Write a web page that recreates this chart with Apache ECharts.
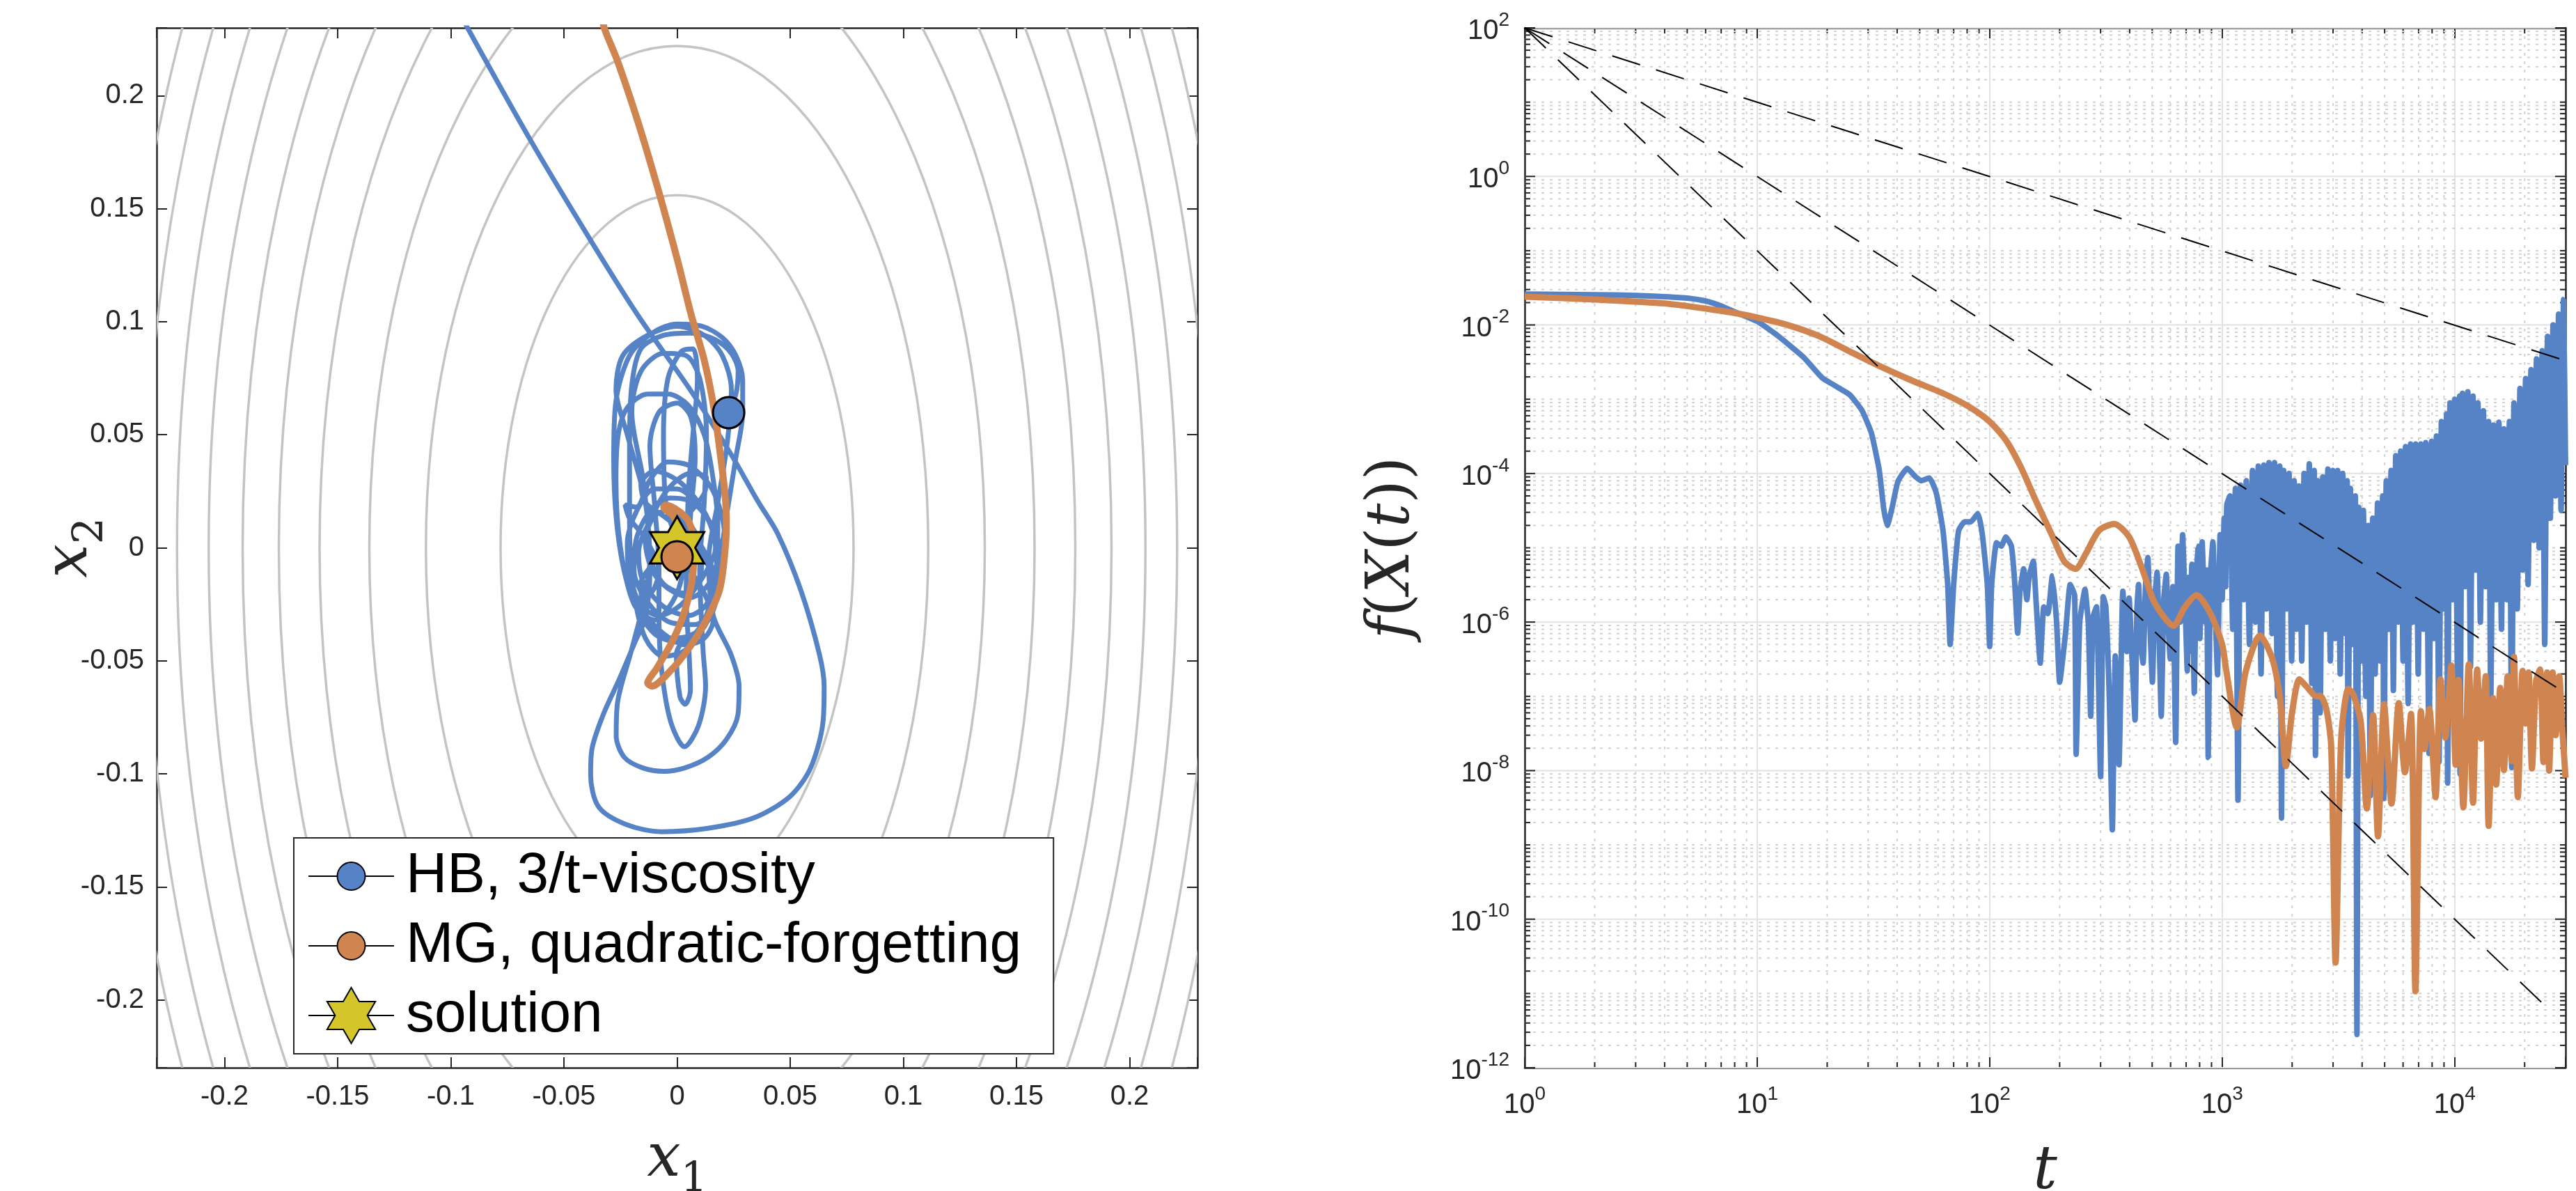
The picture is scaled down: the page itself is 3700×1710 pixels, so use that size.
<!DOCTYPE html>
<html>
<head>
<meta charset="utf-8">
<title>HB vs MG trajectories</title>
<script src="https://cdn.jsdelivr.net/npm/echarts@6/dist/echarts.min.js"></script>
<style>
  html, body { margin: 0; padding: 0; background: #fff; }
  #chart { width: 3700px; height: 1710px; }
</style>
</head>
<body>
<div id="chart"></div>
<script>
// ---- left panel: level sets (semi-axes) ----
var contourA = [0.078, 0.111, 0.136, 0.158, 0.176, 0.192, 0.207, 0.221, 0.235, 0.247];
var contourB = [0.156, 0.222, 0.272, 0.316, 0.352, 0.384, 0.414, 0.442, 0.470, 0.494];

// HB, 3/t-viscosity trajectory (x1, x2)
var hbPath = [
  [-0.0955, 0.236], [-0.0926, 0.23], [-0.0646, 0.18], [-0.038, 0.1357], [-0.0174, 0.103],
  [0.0062, 0.0693], [0.0239, 0.0413], [0.0357, 0.0206], [0.0444, 0.0064], [0.0547, -0.0188],
  [0.0629, -0.0471], [0.065, -0.0613], [0.0645, -0.077], [0.059, -0.0974], [0.0499, -0.110],
  [0.0341, -0.1194], [0.0136, -0.1241], [-0.0069, -0.1256], [-0.0223, -0.1225], [-0.0346, -0.1147],
  [-0.0382, -0.1005], [-0.0377, -0.0895], [-0.0326, -0.0737], [-0.0254, -0.0578], [-0.0182, -0.0408],
  [-0.0141, -0.0313], [-0.012, -0.01], [-0.014, 0.02], [-0.022, 0.05], [-0.027, 0.07],
  [-0.024, 0.085], [-0.013, 0.094], [0.0, 0.098], [0.012, 0.094], [0.02, 0.085],
  [0.024, 0.07], [0.022, 0.045], [0.018, 0.02], [0.014, -0.005], [0.016, -0.03],
  [0.0238, -0.0471], [0.0274, -0.0612], [0.0269, -0.0738], [0.0218, -0.0848], [0.0136, -0.0927],
  [0.0033, -0.0974], [-0.0059, -0.0989], [-0.0151, -0.0974], [-0.0233, -0.0927], [-0.0269, -0.0832],
  [-0.0264, -0.0691], [-0.0202, -0.0455], [-0.015, -0.025], [-0.012, -0.005], [-0.015, 0.03],
  [-0.02, 0.06], [-0.016, 0.078], [-0.006, 0.086], [0.004, 0.085], [0.01, 0.075],
  [0.013, 0.05], [0.012, 0.02], [0.01, -0.01], [0.0115, -0.0455], [0.0126, -0.0612],
  [0.0095, -0.0786], [0.0033, -0.088], [-0.0028, -0.077], [-0.0069, -0.0534], [-0.008, -0.03],
  [-0.008, -0.01], [-0.01, 0.02], [-0.012, 0.045], [-0.008, 0.06], [0.0, 0.064],
  [0.006, 0.058], [0.008, 0.04], [0.006, 0.015], [0.004, -0.02], [0.0054, -0.0487],
  [0.0059, -0.0629], [0.0036, -0.0692], [0.0013, -0.066], [-0.0003, -0.0471], [0.004, -0.04],
  [0.012, -0.035], [0.019, -0.015], [0.021, 0.005], [0.016, 0.025], [0.006, 0.036],
  [-0.004, 0.038], [-0.012, 0.03], [-0.018, 0.018], [-0.023, 0.019], [-0.021, 0.013],
  [-0.014, 0.004], [-0.008, -0.01], [-0.012, -0.02], [-0.02, -0.013], [-0.023, -0.011],
  [-0.018, -0.022], [-0.012, -0.033], [-0.002, -0.04], [0.008, -0.038], [0.015, -0.03],
  [0.018, -0.018], [0.012, -0.005], [0.004, 0.006], [-0.006, 0.014], [-0.014, 0.02],
  [-0.016, 0.028], [-0.01, 0.034], [0.0, 0.03], [0.008, 0.022], [0.014, 0.012],
  [0.017, 0.0], [0.012, -0.012], [0.002, -0.025], [-0.008, -0.03], [-0.015, -0.026],
  [-0.016, -0.016], [-0.01, -0.006], [-0.003, 0.006], [0.006, 0.016], [0.012, 0.024],
  [0.013, 0.031], [0.006, 0.033], [-0.004, 0.026], [-0.012, 0.012], [-0.017, -0.002],
  [-0.015, -0.015], [-0.006, -0.026], [0.005, -0.03], [0.013, -0.025], [0.016, -0.012],
  [0.01, 0.002], [0.002, 0.012], [-0.008, 0.02], [-0.013, 0.01], [-0.012, -0.004],
  [-0.006, -0.016], [0.003, -0.02], [0.01, -0.014], [0.011, -0.002], [0.006, 0.01],
  [-0.002, 0.017], [-0.01, 0.014], [-0.014, 0.003], [-0.011, -0.01], [-0.004, -0.018],
  [0.006, -0.022], [0.014, -0.016], [0.018, -0.004], [0.015, 0.01], [0.007, 0.02],
  [-0.003, 0.022], [-0.012, 0.016], [-0.018, 0.004], [-0.019, -0.01], [-0.013, -0.024],
  [-0.003, -0.033], [0.008, -0.034], [0.016, -0.026], [0.02, -0.012], [0.018, 0.004],
  [0.01, 0.018], [0.0, 0.026], [-0.01, 0.026], [-0.018, 0.016], [-0.022, 0.002],
  [-0.021, -0.012], [-0.015, -0.028], [-0.006, -0.038], [0.004, -0.043], [0.012, -0.04],
  [0.016, -0.032], [0.012, -0.02], [0.005, -0.008], [-0.005, 0.02], [-0.006, 0.05],
  [-0.004, 0.075], [0.002, 0.087], [0.007, 0.088], [0.009, 0.075], [0.007, 0.05],
  [0.005, 0.025], [0.004, 0.0], [0.0, -0.02], [-0.01, -0.032], [-0.019, -0.025],
  [-0.025, 0.0], [-0.027, 0.03], [-0.026, 0.05], [-0.022, 0.062], [-0.013, 0.068],
  [-0.004, 0.068], [0.005, 0.063], [0.012, 0.05], [0.016, 0.03], [0.018, 0.01],
  [0.017, -0.012], [0.012, -0.032], [0.002, -0.042], [-0.01, -0.038], [-0.02, -0.022],
  [-0.026, 0.005], [-0.028, 0.04], [-0.027, 0.065], [-0.021, 0.085], [-0.011, 0.095],
  [0.0, 0.099], [0.011, 0.098], [0.02, 0.093], [0.026, 0.085], [0.029, 0.074],
  [0.029, 0.06], [0.026, 0.04], [0.022, 0.015], [0.018, -0.01], [0.013, -0.03],
  [0.004, -0.045], [-0.006, -0.048], [-0.014, -0.04], [-0.019, -0.02], [-0.021, 0.01],
  [-0.021, 0.045], [-0.02, 0.072], [-0.016, 0.088], [-0.006, 0.094], [0.006, 0.095],
  [0.017, 0.092], [0.024, 0.086], [0.027, 0.078], [0.026, 0.068], [0.0235, 0.062],
  [0.0228, 0.0598]
];

// MG, quadratic-forgetting trajectory (x1, x2)
var mgPath = [
  [-0.033, 0.235], [-0.0322, 0.23], [-0.0263, 0.2153], [-0.0174, 0.1888], [-0.0086, 0.1593],
  [0.0003, 0.1268], [0.0062, 0.1032], [0.0121, 0.0826], [0.0165, 0.0605], [0.0195, 0.0383],
  [0.0212, 0.0236], [0.0218, 0.012], [0.0213, 0.0], [0.0187, -0.0188], [0.0115, -0.0345],
  [0.0033, -0.0471], [-0.0049, -0.0565], [-0.011, -0.0612], [-0.013, -0.0598], [-0.009, -0.0534],
  [-0.0018, -0.0408], [0.0033, -0.0282], [0.0069, -0.0124], [0.0074, 0.0017], [0.0054, 0.0111],
  [0.0013, 0.0158], [-0.0049, 0.0189], [-0.0059, 0.018], [-0.0018, 0.0142], [0.0015, 0.0063],
  [0.002, 0.0], [0.0, -0.004]
];

var hbEnd = [0.0228, 0.0598];
var mgEnd = [0.0, -0.004];
var solutionPoint = [0.0, 0.0];

// ---- right panel: f(X(t)) ----
var hbEarly = [
  [1, 2.6e-2], [2, 2.55e-2], [3, 2.5e-2], [4, 2.4e-2], [5, 2.3e-2], [6, 2.1e-2], [7, 1.8e-2], [8, 1.5e-2],
  [10, 1.12e-2], [12.3, 7.1e-3], [15.8, 3.7e-3], [19, 1.95e-3], [21.4, 1.55e-3], [25, 1.15e-3],
  [28.2, 7.1e-4], [31, 3.5e-4], [33.5, 1.1e-4], [35, 3.4e-5], [36.3, 2.0e-5], [38, 3.4e-5],
  [40.3, 7.8e-5], [44.2, 1.17e-4], [47.9, 9.1e-5], [50.7, 8.0e-5], [55, 8.7e-5], [58.9, 5.5e-5],
  [63, 1.7e-5], [66, 3.2e-6], [67.6, 5.0e-7], [70, 3.2e-6], [73.5, 1.7e-5], [78, 2.24e-5],
  [83, 2.24e-5], [89, 2.9e-5], [93, 1.5e-5], [97.7, 3.2e-6], [100, 4.7e-7], [102, 3.2e-6],
  [107, 1.17e-5], [112, 1.05e-5], [117.5, 1.4e-5], [124, 1.05e-5], [128, 3.6e-6], [132, 7.1e-7],
  [135, 2.6e-6], [140, 5.2e-6], [144.5, 2.0e-6], [148, 4.2e-6], [154, 6.6e-6], [158.5, 1.8e-6],
  [165, 2.8e-7], [171, 1.6e-6], [178, 1.3e-6], [186, 4.2e-6], [194, 1.0e-6], [200, 1.55e-7],
  [212, 7.1e-7], [222, 3.2e-6], [232, 2.3e-6], [235.5, 1.66e-8], [244, 1.0e-6], [257, 2.75e-6],
  [266, 8.9e-7], [272, 5.4e-8], [278, 1.15e-6], [288, 1.6e-6], [300, 8.3e-9], [308, 2.2e-6],
  [316, 1.6e-6], [327, 9.8e-8], [337, 1.6e-9], [347, 3.5e-7], [360, 1.2e-8], [374, 2.6e-6],
  [389, 4.0e-7], [398, 2.1e-6], [410, 3e-7], [422, 4.8e-8], [430, 1.5e-6], [437, 3.2e-6],
  [447, 5e-7], [457, 2.8e-7], [468, 3e-6], [479, 7.4e-6], [490, 8e-7], [501, 1.55e-7],
  [513, 2e-6], [525, 4.7e-6], [536, 6e-7], [547, 5.4e-8], [561, 2e-6], [575, 4.4e-6],
  [586, 9e-7], [598, 3.2e-7], [614, 3e-6], [631, 2.4e-8], [646, 1.05e-5], [661, 1e-6],
  [676, 1.5e-5], [692, 2e-6], [708, 2.2e-7], [716, 4e-6], [724, 4.0e-7], [741, 6e-6],
  [759, 1.1e-7], [772, 3e-6], [785, 1.05e-5], [802, 6e-7], [820, 1.2e-5], [845, 1e-6],
  [858, 5e-6], [871, 1.5e-8], [890, 4e-6], [912, 1.2e-5], [933, 1.5e-6], [955, 1.95e-7],
  [980, 1.5e-5], [1000, 2e-6], [1020, 2.5e-5], [1035, 3e-6], [1047, 3.8e-5]
];
var hbLate = [
  [1080, 5e-5], [1110, 8e-7], [1140, 6.3e-5], [1170, 4e-9], [1200, 7e-5], [1240, 2e-6], [1270, 8e-5],
  [1310, 5e-7], [1350, 1.1e-4], [1390, 1e-6], [1430, 1.26e-4], [1470, 2e-7], [1510, 1.3e-4],
  [1550, 1.5e-6], [1590, 1.4e-4], [1640, 7e-7], [1680, 1.4e-4], [1730, 1e-7], [1770, 1.26e-4],
  [1800, 2.3e-9], [1840, 1.1e-4], [1890, 1.5e-6], [1940, 1e-4], [1990, 3e-7], [2040, 8e-5],
  [2090, 8e-7], [2140, 6.8e-5], [2200, 3e-7], [2250, 1e-4], [2310, 1e-6], [2370, 1.35e-4],
  [2430, 1.5e-7], [2490, 1.1e-4], [2520, 1.6e-8], [2580, 8e-5], [2640, 6e-8], [2710, 9e-5],
  [2780, 8e-7], [2850, 1.15e-4], [2920, 3e-7], [2990, 1.1e-4], [3060, 6e-7], [3140, 1.1e-4],
  [3220, 2e-7], [3300, 1e-4], [3380, 7e-7], [3450, 8e-5], [3480, 8.5e-9], [3560, 6.3e-5],
  [3650, 5e-7], [3740, 5e-5], [3800, 2.8e-12], [3870, 3.5e-5], [3960, 3e-7], [4050, 3.2e-5],
  [4150, 1e-7], [4250, 2e-5], [4340, 4.6e-9], [4440, 2.5e-5], [4550, 2e-7], [4660, 4e-5],
  [4780, 3e-7], [4900, 5e-5], [4960, 4.2e-9], [5080, 8e-5], [5200, 8e-7], [5330, 1.1e-4],
  [5450, 1.2e-7], [5580, 1.74e-4], [5720, 1e-6], [5860, 2e-4], [6000, 3e-7], [6150, 2.3e-4],
  [6310, 8e-8], [6460, 2.5e-4], [6610, 1e-6], [6800, 2.5e-4], [6970, 2e-7], [7150, 2.5e-4],
  [7330, 8e-7], [7510, 2.6e-4], [7760, 1.7e-8], [7950, 2.7e-4], [8150, 6e-7], [8350, 3.2e-4],
  [8570, 1.3e-8], [8770, 5e-4], [9000, 1.5e-6], [9230, 6.3e-4], [9330, 6.8e-9], [9550, 8.9e-4],
  [9790, 2e-6], [10000, 1e-3], [10300, 1.5e-7], [10500, 1.1e-3], [10550, 9e-9], [10800, 1.2e-3],
  [11100, 3e-6], [11400, 1.26e-3], [11700, 2.5e-7], [12000, 1.1e-3], [12300, 5e-6], [12600, 8.9e-4],
  [12900, 1e-6], [13300, 7e-4], [13600, 3e-6], [14000, 5e-4], [14300, 8e-8], [14700, 4.5e-4],
  [15100, 2e-6], [15500, 4.9e-4], [15900, 8e-7], [16300, 4e-4], [16800, 2e-6], [17200, 5e-4],
  [17600, 1.1e-8], [18000, 8.9e-4], [18600, 1.5e-6], [19100, 1.4e-3], [19600, 5e-6], [20200, 1.9e-3],
  [20700, 3.2e-6], [21300, 2.5e-3], [21900, 1.26e-5], [22500, 3.5e-3], [23100, 1e-5], [23800, 4.5e-3],
  [24400, 5e-7], [25100, 7e-3], [25800, 2.5e-5], [26500, 1e-2], [27200, 5e-5], [28000, 1.4e-2],
  [28700, 3.2e-5], [29400, 2.2e-2], [30000, 1.3e-4]
];
var mgCurve = [
  [1, 2.4e-2], [2, 2.2e-2], [4, 1.95e-2], [7, 1.55e-2], [8.5, 1.4e-2], [10, 1.26e-2], [13.5, 1.0e-2],
  [18.4, 7.1e-3], [25, 4.4e-3], [34, 2.75e-3], [46, 1.8e-3], [63, 1.2e-3], [80.5, 8.1e-4], [100, 5.0e-4],
  [117.5, 2.8e-4], [136, 1.23e-4], [158, 4.3e-5], [185, 1.5e-5], [209, 6.6e-6], [234, 5.2e-6],
  [259, 8.3e-6], [295, 1.7e-5], [343, 2.1e-5], [398, 1.4e-5], [453, 5.2e-6], [513, 1.8e-6],
  [617, 8.9e-7], [692, 1.6e-6], [776, 2.3e-6], [891, 1.3e-6], [1000, 5e-7], [1040, 2.3e-7],
  [1156, 3.8e-8], [1260, 2.1e-7], [1455, 6.6e-7], [1644, 3.2e-7], [1770, 1e-7], [1880, 1.15e-8],
  [1995, 5.8e-8], [2150, 1.7e-7], [2310, 1.35e-7], [2550, 1e-7], [2640, 1.02e-7], [2805, 6.8e-8],
  [2945, 2.1e-8], [3075, 2.6e-11], [3250, 2.7e-8], [3490, 1.26e-7], [3660, 1.07e-7], [3945, 4.6e-8],
  [4190, 3.1e-9], [4460, 5.6e-8], [4680, 1.3e-9], [4970, 7.9e-8], [5350, 3.6e-9], [5750, 8.1e-8],
  [6110, 9.5e-9], [6490, 5.8e-8], [6780, 1.07e-11], [7160, 6.3e-8], [7410, 1.95e-8], [7780, 6.8e-8],
  [8280, 4.4e-9], [8690, 1.7e-7], [9120, 2.8e-8], [9680, 2.6e-7], [10100, 1.2e-8], [10400, 1.66e-7],
  [10900, 3.2e-9], [11500, 2.7e-7], [12000, 3.7e-9], [12500, 2.3e-7], [13000, 2.7e-8], [13600, 1.86e-7],
  [14000, 1.8e-9], [14600, 9.5e-8], [15100, 6.5e-9], [15700, 1.3e-7], [16300, 1.02e-8], [16900, 1.86e-7],
  [17600, 1.35e-8], [18000, 3.4e-7], [18700, 4.4e-9], [19600, 2.2e-7], [20200, 4.3e-8], [20800, 2.1e-7],
  [21500, 1.07e-8], [22400, 1.6e-7], [23300, 2.3e-7], [24100, 1.3e-8], [25000, 2.1e-7], [25500, 1e-8],
  [26400, 2.1e-7], [27200, 3e-8], [28200, 1.86e-7], [29000, 4e-8], [30000, 8e-9]
];

// reference rates (dashed): end points of 1/t, 1/t^2, 1/t^3 guides
var rateT1 = [[1, 100], [30000, 3.3e-3]];
var rateT2 = [[1, 100], [30000, 1.1e-7]];
var rateT3 = [[1, 100], [26000, 5.7e-12]];

// tick values
var yMajorTicks = [1e-12, 1e-10, 1e-8, 1e-6, 1e-4, 1e-2, 1e0, 1e2];
var minorMantissas = [2, 3, 4, 5, 6, 7, 8, 9];
var xDecades = [1, 10, 100, 1000, 10000];
var yDecadeExps = [-12, -11, -10, -9, -8, -7, -6, -5, -4, -3, -2, -1, 0, 1];

var INK = '#262626';
var BLUE = '#5683c6';
var ORANGE = '#d08450';
var GOLD = '#d4c62a';
var SANS = 'Liberation Sans';
var SERIF = 'DejaVu Serif';

var xMinorTicks = [];
xDecades.forEach(function (d) {
  minorMantissas.forEach(function (m) { if (m * d < 30000) xMinorTicks.push(m * d); });
});
var yMinorTicks = [];
yDecadeExps.forEach(function (e) {
  minorMantissas.forEach(function (m) { yMinorTicks.push(m * Math.pow(10, e)); });
  if (e % 2 !== 0) yMinorTicks.push(Math.pow(10, e));
});

// symbols: circle drawn at half of its box so legend and plot match the star size
var circleSym = 'path://M0,0 M100,100 M75,50 A25,25 0 1 1 25,50 A25,25 0 1 1 75,50 Z';
var starSym = 'path://M0,0 M100,100 M50,0 L64.43,25 L93.3,25 L78.87,50 L93.3,75 L64.43,75 L50,100 L35.57,75 L6.7,75 L21.13,50 L6.7,25 L35.57,25 Z';

var fmtLin = function (v) {
  var k = Math.round(v / 0.05);
  if (Math.abs(k * 0.05 - v) > 1e-6) return '';
  return String(+(k * 0.05).toFixed(2));
};
var fmtPow = function (v) {
  var e = Math.log10(v);
  var r = Math.round(e);
  if (Math.abs(e - r) > 1e-6) return '';
  return '{b|10}{s|' + r + '}';
};
var powRich = {
  b: { fontFamily: SANS, fontSize: 40, color: INK, verticalAlign: 'bottom' },
  s: { fontFamily: SANS, fontSize: 28, color: INK, verticalAlign: 'bottom', padding: [0, 0, 22, 0] }
};
var mathRich = {
  i: { fontFamily: SERIF, fontStyle: 'italic', fontSize: 86, color: INK, verticalAlign: 'bottom', padding: [0, 0, 16, 0] },
  n: { fontFamily: SERIF, fontSize: 86, color: INK, verticalAlign: 'bottom', padding: [0, 0, 16, 0] },
  s: { fontFamily: SERIF, fontSize: 60, color: INK, verticalAlign: 'bottom' }
};

var axisLine = { onZero: false, lineStyle: { color: INK, width: 2.5 } };
var tickIn = { inside: true, length: 15, lineStyle: { color: INK, width: 2 } };

function linAxis(extra) {
  var a = {
    gridIndex: 0, type: 'value', min: -0.23, max: 0.23, splitNumber: 9,
    axisLine: axisLine, axisTick: tickIn, splitLine: { show: false },
    axisLabel: { show: false }, nameMoveOverlap: false
  };
  for (var k in extra) a[k] = extra[k];
  return a;
}
function logAxis(extra) {
  var a = {
    gridIndex: 1, type: 'log', logBase: 10,
    axisLine: axisLine, splitLine: { show: false }, axisLabel: { show: false },
    nameMoveOverlap: false
  };
  for (var k in extra) a[k] = extra[k];
  return a;
}

var chart = echarts.init(document.getElementById('chart'));

chart.setOption({
  animation: false,
  backgroundColor: '#ffffff',
  textStyle: { fontFamily: SANS },
  grid: [
    { left: 225, top: 40, width: 1495, height: 1493, containLabel: false, outerBoundsMode: 'none' },
    { left: 2190, top: 40, width: 1495, height: 1493, containLabel: false, outerBoundsMode: 'none' }
  ],
  legend: {
    data: ['HB, 3/t-viscosity', 'MG, quadratic-forgetting', 'solution'],
    orient: 'vertical', align: 'left', left: 422, top: 1203,
    itemWidth: 123, itemHeight: 100, itemGap: 18,
    padding: [14, 46, 14, 20],
    backgroundColor: '#ffffff', borderColor: INK, borderWidth: 2,
    selectedMode: false,
    lineStyle: { color: '#000000', width: 2, type: 'solid' },
    textStyle: { fontFamily: SANS, fontSize: 82, color: '#000000', padding: [0, 0, 0, 12] }
  },
  xAxis: [
    linAxis({
      position: 'bottom',
      name: '{i|x}{s|1}', nameLocation: 'middle', nameGap: 90,
      nameTextStyle: { rich: mathRich },
      axisLabel: { show: true, margin: 22, fontSize: 40, color: INK, formatter: fmtLin }
    }),
    linAxis({ position: 'top' }),
    logAxis({
      min: 1, max: 30000, position: 'bottom',
      name: '{i|t}', nameLocation: 'middle', nameGap: 108,
      nameTextStyle: { rich: mathRich },
      axisTick: tickIn,
      axisLabel: { show: true, margin: 24, formatter: fmtPow, rich: powRich },
      splitLine: { show: true, lineStyle: { color: '#e2e2e2', width: 2 } }
    }),
    logAxis({ min: 1, max: 30000, position: 'top', axisTick: tickIn })
  ],
  yAxis: [
    linAxis({
      position: 'left',
      name: '{i|x}{s|2}', nameLocation: 'middle', nameGap: 64,
      nameTextStyle: { rich: mathRich },
      axisLabel: { show: true, margin: 18, fontSize: 40, color: INK, formatter: fmtLin }
    }),
    linAxis({ position: 'right' }),
    logAxis({
      min: 1e-12, max: 1e2, position: 'left',
      name: '{i|f}{n|(}{i|X}{n|(}{i|t}{n|))}', nameLocation: 'middle', nameGap: 130,
      nameTextStyle: { rich: mathRich },
      axisTick: { show: false }
    }),
    logAxis({ min: 1e-12, max: 1e2, position: 'right', axisTick: { show: false } })
  ],
  series: [
    {
      name: 'levels', type: 'custom', xAxisIndex: 0, yAxisIndex: 0, z: 1, silent: true,
      data: contourA.map(function (a, i) { return [a, contourB[i]]; }),
      encode: { x: 0, y: 1 },
      renderItem: function (params, api) {
        var c = api.coord([0, 0]);
        var rx = api.coord([api.value(0), 0])[0] - c[0];
        var ry = c[1] - api.coord([0, api.value(1)])[1];
        var cs = params.coordSys;
        return {
          type: 'group',
          clipPath: { type: 'rect', shape: { x: cs.x, y: cs.y, width: cs.width, height: cs.height } },
          children: [{
            type: 'ellipse',
            shape: { cx: c[0], cy: c[1], rx: rx, ry: ry },
            style: { fill: 'none', stroke: '#c4c4c4', lineWidth: 3.5 }
          }]
        };
      }
    },
    {
      name: 'hb-path', type: 'line', xAxisIndex: 0, yAxisIndex: 0, z: 3,
      data: hbPath, showSymbol: false, smooth: 0.3, silent: true,
      lineStyle: { color: BLUE, width: 7 }
    },
    {
      name: 'mg-path', type: 'line', xAxisIndex: 0, yAxisIndex: 0, z: 4,
      data: mgPath, showSymbol: false, smooth: 0.3, silent: true,
      lineStyle: { color: ORANGE, width: 10 }
    },
    {
      name: 'solution', type: 'line', xAxisIndex: 0, yAxisIndex: 0, z: 5,
      data: [solutionPoint], symbol: starSym, symbolSize: 90, silent: true,
      itemStyle: { color: GOLD, borderColor: '#000000', borderWidth: 3 },
      lineStyle: { color: GOLD }
    },
    {
      name: 'HB, 3/t-viscosity', type: 'line', xAxisIndex: 0, yAxisIndex: 0, z: 6,
      data: [hbEnd], symbol: circleSym, symbolSize: 90, silent: true,
      itemStyle: { color: BLUE, borderColor: '#000000', borderWidth: 3 },
      lineStyle: { color: BLUE }
    },
    {
      name: 'MG, quadratic-forgetting', type: 'line', xAxisIndex: 0, yAxisIndex: 0, z: 7,
      data: [mgEnd], symbol: circleSym, symbolSize: 90, silent: true,
      itemStyle: { color: ORANGE, borderColor: '#000000', borderWidth: 3 },
      lineStyle: { color: ORANGE }
    },
    {
      name: 'x-minor', type: 'custom', xAxisIndex: 2, yAxisIndex: 2, z: 1, silent: true,
      data: xMinorTicks.map(function (v) { return [v, 1]; }),
      encode: { x: 0, y: 1 },
      renderItem: function (params, api) {
        var cs = params.coordSys;
        var x = api.coord([api.value(0), 1])[0];
        var b = cs.y + cs.height;
        return {
          type: 'group', children: [
            { type: 'line', shape: { x1: x, y1: cs.y, x2: x, y2: b }, style: { stroke: '#d2d2d2', lineWidth: 2, lineDash: [4, 8] } },
            { type: 'line', shape: { x1: x, y1: b, x2: x, y2: b - 8 }, style: { stroke: INK, lineWidth: 2 } },
            { type: 'line', shape: { x1: x, y1: cs.y, x2: x, y2: cs.y + 8 }, style: { stroke: INK, lineWidth: 2 } }
          ]
        };
      }
    },
    {
      name: 'y-minor', type: 'custom', xAxisIndex: 2, yAxisIndex: 2, z: 1, silent: true,
      data: yMinorTicks.map(function (v) { return [1, v]; }),
      encode: { x: 0, y: 1 },
      renderItem: function (params, api) {
        var cs = params.coordSys;
        var y = api.coord([1, api.value(1)])[1];
        var r = cs.x + cs.width;
        return {
          type: 'group', children: [
            { type: 'line', shape: { x1: cs.x, y1: y, x2: r, y2: y }, style: { stroke: '#d2d2d2', lineWidth: 2, lineDash: [4, 8] } },
            { type: 'line', shape: { x1: cs.x, y1: y, x2: cs.x + 8, y2: y }, style: { stroke: INK, lineWidth: 2 } },
            { type: 'line', shape: { x1: r, y1: y, x2: r - 8, y2: y }, style: { stroke: INK, lineWidth: 2 } }
          ]
        };
      }
    },
    {
      name: 'y-major', type: 'custom', xAxisIndex: 2, yAxisIndex: 2, z: 2, silent: true,
      data: yMajorTicks.map(function (v) { return [1, v]; }),
      encode: { x: 0, y: 1 },
      renderItem: function (params, api) {
        var cs = params.coordSys;
        var v = api.value(1);
        var y = api.coord([1, v])[1];
        var r = cs.x + cs.width;
        return {
          type: 'group', children: [
            { type: 'line', shape: { x1: cs.x, y1: y, x2: r, y2: y }, style: { stroke: '#e2e2e2', lineWidth: 2 } },
            { type: 'line', shape: { x1: cs.x, y1: y, x2: cs.x + 15, y2: y }, style: { stroke: INK, lineWidth: 2 } },
            { type: 'line', shape: { x1: r, y1: y, x2: r - 15, y2: y }, style: { stroke: INK, lineWidth: 2 } },
            {
              type: 'text', x: cs.x - 22, y: y,
              style: { text: fmtPow(v), rich: powRich, align: 'right', verticalAlign: 'middle', fill: INK }
            }
          ]
        };
      }
    },
    {
      name: 'HB curve', type: 'line', xAxisIndex: 2, yAxisIndex: 2, z: 4, silent: true,
      data: hbEarly.concat(hbLate), showSymbol: false, smooth: 0.15,
      lineStyle: { color: BLUE, width: 8 }
    },
    {
      name: 'MG curve', type: 'line', xAxisIndex: 2, yAxisIndex: 2, z: 5, silent: true,
      data: mgCurve, showSymbol: false, smooth: 0.25,
      lineStyle: { color: ORANGE, width: 9 }
    },
    {
      name: 'rate 1/t', type: 'line', xAxisIndex: 2, yAxisIndex: 2, z: 6, silent: true,
      data: rateT1, showSymbol: false, lineStyle: { color: '#000000', width: 2, type: [42, 24] }
    },
    {
      name: 'rate 1/t^2', type: 'line', xAxisIndex: 2, yAxisIndex: 2, z: 6, silent: true,
      data: rateT2, showSymbol: false, lineStyle: { color: '#000000', width: 2, type: [42, 24] }
    },
    {
      name: 'rate 1/t^3', type: 'line', xAxisIndex: 2, yAxisIndex: 2, z: 6, silent: true,
      data: rateT3, showSymbol: false, lineStyle: { color: '#000000', width: 2, type: [42, 24] }
    }
  ]
});
</script>
</body>
</html>
